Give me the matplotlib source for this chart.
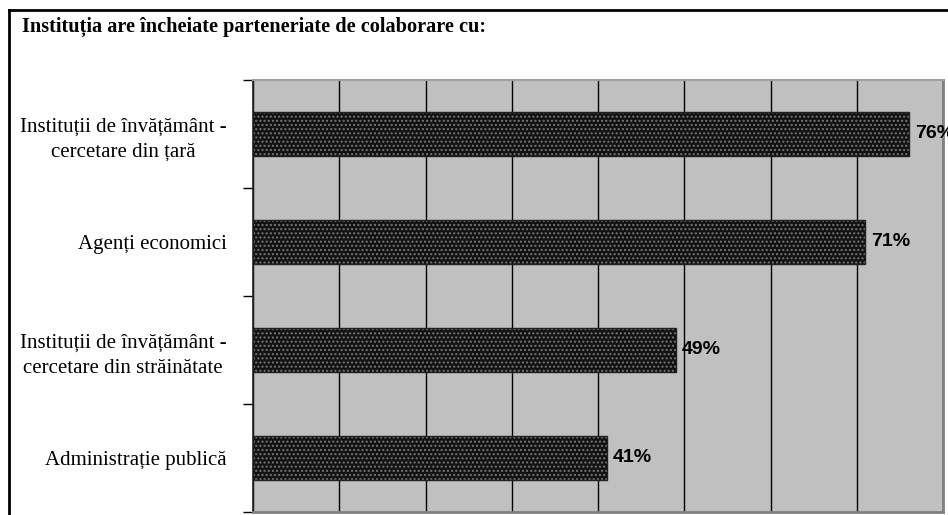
import matplotlib.pyplot as plt
from matplotlib.lines import Line2D

# Data
categories = [
    "Instituții de învățământ -\ncercetare din țară",
    "Agenți economici",
    "Instituții de învățământ -\ncercetare din străinătate",
    "Administrație publică",
]
values = [76, 71, 49, 41]
title = "Instituția are încheiate parteneriate de colaborare cu:"

fig = plt.figure(figsize=(9.48, 5.15), dpi=100)
ax = fig.add_axes([253 / 948, 3 / 515, 690 / 948, 432 / 515])
ax.set_facecolor("#c0c0c0")

pos = list(range(len(categories)))

# bar fill with dotted pattern, then dark outline
ax.barh(pos, values, height=0.41, color="#121212", edgecolor="#777777",
        hatch="....", linewidth=0, zorder=3)
ax.barh(pos, values, height=0.41, fill=False, edgecolor="#202020",
        linewidth=1, zorder=4)

for p, v in zip(pos, values):
    ax.annotate(f"{v}%", xy=(v, p), xytext=(4.5, 0), textcoords="offset points",
                ha="left", va="center", fontsize=14, fontweight="bold",
                family="Liberation Sans", annotation_clip=False, clip_on=False)

ax.set_xlim(0, 80)
ax.set_ylim(len(categories) - 0.5, -0.5)

# vertical gridlines
ax.set_xticks(range(0, 81, 10))
ax.xaxis.grid(True, color="black", linewidth=1, zorder=1)
ax.set_axisbelow(True)
ax.tick_params(axis="x", length=0, labelbottom=False)

ax.set_yticks(pos)
ax.set_yticklabels(categories, family="Liberation Serif", fontsize=15,
                   multialignment="center", linespacing=1.45)
ax.tick_params(axis="y", which="major", length=0, pad=19)
ax.set_yticks([p - 0.5 for p in pos] + [len(pos) - 0.5], minor=True)
ax.tick_params(axis="y", which="minor", length=7, width=1, color="black")

ax.spines["left"].set_color("#202020")
ax.spines["left"].set_linewidth(1.2)
ax.spines["top"].set_color("#a0a0a0")
ax.spines["top"].set_linewidth(1.5)
ax.spines["right"].set_color("#808080")
ax.spines["right"].set_linewidth(2)
ax.spines["bottom"].set_color("#808080")
ax.spines["bottom"].set_linewidth(2)

# outer frame
fig.add_artist(Line2D([9 / 948, 9 / 948], [0, 1 - 10 / 515],
                      transform=fig.transFigure, color="black", linewidth=2))
fig.add_artist(Line2D([9 / 948, 1], [1 - 10 / 515, 1 - 10 / 515],
                      transform=fig.transFigure, color="black", linewidth=2))

fig.text(22 / 948, 1 - 27 / 515, title, ha="left", va="center",
         family="Liberation Serif", fontweight="bold", fontsize=14.6)

fig.savefig("out.png", dpi=100)
